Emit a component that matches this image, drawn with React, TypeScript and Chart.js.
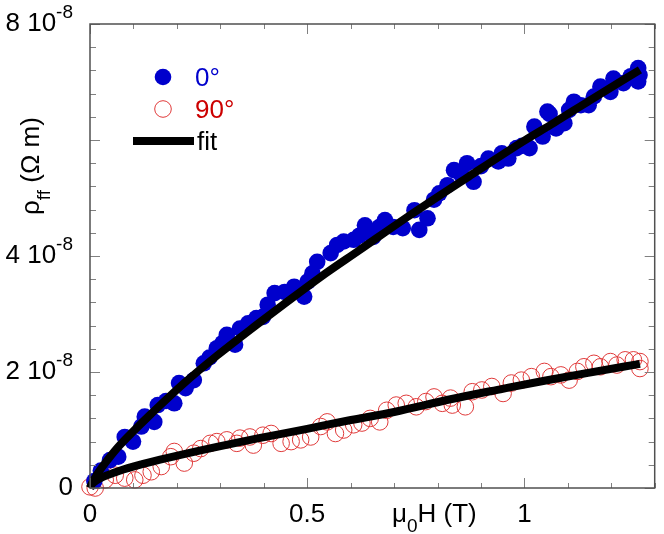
import React, { useEffect, useRef } from "react";
import { Chart, registerables } from "chart.js";

Chart.register(...registerables);

// ---- data (y values in units of 1e-8 Ω m, x in T) ----
const zeroDegX = [0.01, 0.025, 0.046, 0.065, 0.08, 0.099, 0.118, 0.126, 0.148, 0.156, 0.175, 0.194, 0.205, 0.22, 0.239, 0.262, 0.275, 0.292, 0.305, 0.315, 0.334, 0.345, 0.364, 0.383, 0.398, 0.409, 0.425, 0.448, 0.47, 0.493, 0.501, 0.512, 0.523, 0.554, 0.569, 0.584, 0.607, 0.62, 0.633, 0.652, 0.666, 0.679, 0.698, 0.72, 0.747, 0.758, 0.777, 0.792, 0.804, 0.823, 0.838, 0.855, 0.868, 0.883, 0.9, 0.917, 0.94, 0.948, 0.963, 0.982, 0.995, 1.012, 1.023, 1.042, 1.053, 1.058, 1.073, 1.092, 1.103, 1.114, 1.13, 1.148, 1.16, 1.175, 1.198, 1.205, 1.228, 1.245, 1.262, 1.262, 1.265];
const zeroDegY = [0.12, 0.3, 0.48, 0.54, 0.88, 0.8, 1.06, 1.23, 1.14, 1.43, 1.5, 1.46, 1.81, 1.72, 1.86, 2.15, 2.25, 2.41, 2.5, 2.64, 2.47, 2.75, 2.84, 2.93, 2.95, 3.16, 3.36, 3.38, 3.47, 3.3, 3.56, 3.7, 3.9, 4.05, 4.19, 4.25, 4.28, 4.35, 4.53, 4.33, 4.5, 4.62, 4.5, 4.48, 4.79, 4.45, 4.65, 4.97, 5.08, 5.22, 5.48, 5.4, 5.6, 5.28, 5.55, 5.68, 5.63, 5.77, 5.68, 5.86, 5.9, 5.86, 6.23, 6.06, 6.49, 6.45, 6.2, 6.29, 6.52, 6.66, 6.6, 6.6, 6.75, 6.92, 6.83, 7.06, 6.98, 7.1, 7.24, 7.01, 7.12];

const ninetyDegX = [0.0, 0.012, 0.035, 0.058, 0.08, 0.103, 0.122, 0.141, 0.164, 0.186, 0.194, 0.217, 0.239, 0.255, 0.277, 0.292, 0.315, 0.338, 0.345, 0.368, 0.376, 0.398, 0.417, 0.44, 0.463, 0.485, 0.508, 0.531, 0.546, 0.565, 0.584, 0.607, 0.626, 0.645, 0.667, 0.683, 0.705, 0.728, 0.751, 0.773, 0.792, 0.811, 0.83, 0.834, 0.864, 0.88, 0.902, 0.925, 0.951, 0.97, 0.993, 1.016, 1.046, 1.061, 1.084, 1.103, 1.122, 1.137, 1.16, 1.175, 1.198, 1.213, 1.232, 1.251, 1.266, 1.266];
const ninetyDegY = [0.02, 0.0, 0.14, 0.22, 0.17, 0.14, 0.22, 0.28, 0.37, 0.54, 0.63, 0.43, 0.6, 0.68, 0.77, 0.8, 0.83, 0.77, 0.86, 0.88, 0.74, 0.91, 0.94, 0.77, 0.8, 0.83, 0.88, 1.06, 1.14, 0.94, 1.0, 1.09, 1.12, 1.2, 1.14, 1.34, 1.43, 1.46, 1.4, 1.49, 1.57, 1.46, 1.55, 1.43, 1.4, 1.66, 1.69, 1.75, 1.63, 1.81, 1.86, 1.92, 2.01, 1.92, 1.95, 1.86, 2.01, 2.09, 2.15, 2.09, 2.18, 2.12, 2.21, 2.21, 2.18, 2.06];

const fit0X = [0, 0.005, 0.015, 0.03, 0.064, 0.1, 0.141, 0.217, 0.292, 0.383, 0.45, 0.531, 0.62, 0.728, 0.872, 1.0, 1.069, 1.15, 1.266];
const fit0Y = [0, 0.09, 0.22, 0.38, 0.7, 0.98, 1.28, 1.81, 2.28, 2.81, 3.19, 3.64, 4.1, 4.66, 5.37, 5.99, 6.3, 6.68, 7.21];

const fit90X = [0, 0.005, 0.015, 0.03, 0.065, 0.12, 0.179, 0.292, 0.383, 0.5, 0.592, 0.7, 0.83, 0.95, 1.046, 1.15, 1.266];
const fit90Y = [0, 0.07, 0.13, 0.19, 0.29, 0.41, 0.52, 0.71, 0.85, 1.02, 1.16, 1.31, 1.53, 1.71, 1.85, 1.99, 2.14];

const xTickValues = [0, 0.5, 1];
const xTickLabels = ["0", "0.5", "1"];
const yTickValues = [0, 2, 4, 8];
const yTickMain = ["0", "2 10", "4 10", "8 10"];
const yTickSup = ["", "-8", "-8", "-8"];
const legendLabels = ["0°", "90°", "fit"];

const FONT = '"Liberation Sans", Arial, Helvetica, sans-serif';
const BLUE = "#0000cc";
const RED_TEXT = "#cc0000";
const RED_MARK = "#e03a3a";

const toPts = (xs: number[], ys: number[]) => xs.map((x, i) => ({ x, y: ys[i] }));

const decorPlugin = {
  id: "decor",
  afterDatasetsDraw(chart: any) {
    const ctx = chart.ctx as CanvasRenderingContext2D;
    const xs = chart.scales.x;
    const ys = chart.scales.y;
    const L = xs.left, R = xs.right, T = ys.top, B = ys.bottom;
    ctx.save();
    // ticks
    ctx.strokeStyle = "#808080";
    ctx.lineWidth = 1;
    ctx.beginPath();
    for (let i = 0; i <= 13; i++) {
      const v = i / 10;
      const px = Math.round(xs.getPixelForValue(v)) + 0.5;
      const len = i % 5 === 0 ? 10 : 5;
      ctx.moveTo(px, B); ctx.lineTo(px, B - len);
      ctx.moveTo(px, T); ctx.lineTo(px, T + len);
    }
    for (let i = 0; i <= 20; i++) {
      const v = i * 0.4;
      const py = Math.round(ys.getPixelForValue(v)) + 0.5;
      const len = i % 5 === 0 ? 10 : 6;
      ctx.moveTo(L, py); ctx.lineTo(L + len, py);
      ctx.moveTo(R, py); ctx.lineTo(R - len, py);
    }
    ctx.stroke();
    // frame
    ctx.strokeStyle = "#505050";
    ctx.lineWidth = 1.5;
    ctx.strokeRect(L, T, R - L, B - T);

    // y tick labels
    ctx.fillStyle = "#000";
    ctx.textBaseline = "alphabetic";
    const labelRight = 73;
    yTickValues.forEach((v, i) => {
      const py = ys.getPixelForValue(v);
      ctx.font = `19px ${FONT}`;
      const sw = yTickSup[i] ? ctx.measureText(yTickSup[i]).width : 0;
      if (yTickSup[i]) {
        ctx.textAlign = "right";
        ctx.fillText(yTickSup[i], labelRight, py - 6);
      }
      ctx.font = `26px ${FONT}`;
      ctx.textAlign = "right";
      ctx.fillText(yTickMain[i], labelRight - sw, py + 7);
    });
    // x tick labels
    ctx.font = `26px ${FONT}`;
    ctx.textAlign = "center";
    xTickValues.forEach((v, i) => {
      ctx.fillText(xTickLabels[i], xs.getPixelForValue(v), 522);
    });

    // x title: μ0H (T)
    ctx.textAlign = "left";
    let x = 392;
    ctx.font = `26px ${FONT}`;
    ctx.fillText("μ", x, 522);
    x += ctx.measureText("μ").width;
    ctx.font = `19px ${FONT}`;
    ctx.fillText("0", x, 532);
    x += ctx.measureText("0").width;
    ctx.font = `26px ${FONT}`;
    ctx.fillText("H (T)", x, 522);

    // y title: ρff (Ω m)
    ctx.save();
    ctx.translate(39, 215);
    ctx.rotate(-Math.PI / 2);
    let tx = 0;
    ctx.font = `26px ${FONT}`;
    ctx.fillText("ρ", tx, 0);
    tx += ctx.measureText("ρ").width;
    ctx.font = `19px ${FONT}`;
    ctx.fillText("ff", tx, 11);
    tx += ctx.measureText("ff").width;
    ctx.font = `26px ${FONT}`;
    ctx.fillText(" (Ω m)", tx, 0);
    ctx.restore();

    // legend
    ctx.fillStyle = BLUE;
    ctx.beginPath();
    ctx.arc(163, 77, 8.3, 0, Math.PI * 2);
    ctx.fill();
    ctx.font = `26px ${FONT}`;
    ctx.fillText(legendLabels[0], 195, 86);

    ctx.strokeStyle = RED_MARK;
    ctx.lineWidth = 1;
    ctx.beginPath();
    ctx.arc(163, 109, 8.3, 0, Math.PI * 2);
    ctx.stroke();
    ctx.fillStyle = RED_TEXT;
    ctx.fillText(legendLabels[1], 195, 118);

    ctx.strokeStyle = "#000";
    ctx.lineWidth = 8;
    ctx.beginPath();
    ctx.moveTo(133, 141);
    ctx.lineTo(194, 141);
    ctx.stroke();
    ctx.fillStyle = "#000";
    ctx.fillText(legendLabels[2], 197, 150);

    ctx.restore();
  },
};

export default function App() {
  const ref = useRef<HTMLCanvasElement | null>(null);
  useEffect(() => {
    if (!ref.current) return;
    const chart = new Chart(ref.current, {
      type: "scatter",
      data: {
        datasets: [
          {
            label: "fit0",
            data: toPts(fit0X, fit0Y),
            showLine: true,
            borderColor: "#000",
            borderWidth: 8,
            pointRadius: 0,
            cubicInterpolationMode: "monotone",
            order: 0,
            clip: false,
          } as any,
          {
            label: "fit90",
            data: toPts(fit90X, fit90Y),
            showLine: true,
            borderColor: "#000",
            borderWidth: 8,
            pointRadius: 0,
            cubicInterpolationMode: "monotone",
            order: 0,
            clip: false,
          } as any,
          {
            label: "0°",
            data: toPts(zeroDegX, zeroDegY),
            backgroundColor: BLUE,
            borderColor: BLUE,
            borderWidth: 0,
            pointRadius: 8.3,
            order: 1,
            clip: false,
          } as any,
          {
            label: "90°",
            data: toPts(ninetyDegX, ninetyDegY),
            backgroundColor: "rgba(0,0,0,0)",
            borderColor: RED_MARK,
            borderWidth: 1,
            pointRadius: 8.3,
            order: 2,
            clip: false,
          } as any,
        ],
      },
      options: {
        animation: false,
        responsive: false,
        events: [],
        layout: { padding: { left: 90, right: 3, top: 24, bottom: 46 } },
        plugins: { legend: { display: false }, tooltip: { enabled: false } },
        scales: {
          x: { type: "linear", min: 0, max: 1.3, display: false },
          y: { type: "linear", min: 0, max: 8, display: false },
        },
      },
      plugins: [decorPlugin],
    });
    return () => chart.destroy();
  }, []);
  return (
    <div style={{ position: "absolute", left: 0, top: 0, width: 664, height: 534, background: "#fff" }}>
      <canvas ref={ref} width={664} height={534} style={{ display: "block" }} />
    </div>
  );
}
